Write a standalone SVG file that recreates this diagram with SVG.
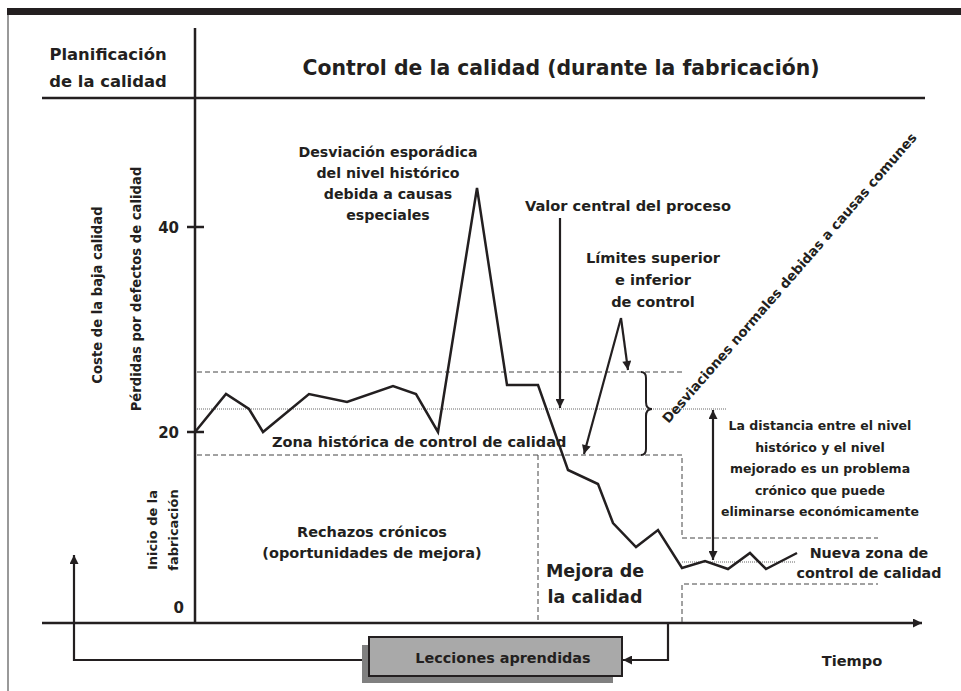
<svg xmlns="http://www.w3.org/2000/svg" width="961" height="691" viewBox="0 0 961 691">
<style>
text{font-family:"DejaVu Sans","Liberation Sans",sans-serif;font-weight:bold;fill:#231f20}
.ln{stroke:#231f20;stroke-width:2.5;fill:none}
.dash{stroke:#444;stroke-width:1;stroke-dasharray:5 3;fill:none}
.dot{stroke:#666;stroke-width:1;stroke-dasharray:1 1;fill:none}
.arr{stroke:#231f20;stroke-width:2.2;fill:none}
.c{text-anchor:middle}
</style>
<defs>
<marker id="ah" viewBox="0 0 10 10" refX="10" refY="5" markerWidth="10" markerHeight="9" markerUnits="userSpaceOnUse" orient="auto-start-reverse"><path d="M0,0 L10,5 L0,10 Z" fill="#231f20"/></marker>
</defs>
<rect width="961" height="691" fill="#fff"/>
<rect x="7" y="8" width="954" height="7" fill="#231f20"/>
<line x1="8" y1="15" x2="8" y2="691" stroke="#777" stroke-width="1.5"/>

<g id="frame">
<line class="ln" x1="195" y1="28" x2="195" y2="623"/>
<line class="ln" x1="42" y1="98" x2="925" y2="98"/>
<line class="ln" x1="42" y1="623" x2="922" y2="623" marker-end="url(#ah)"/>
<line class="ln" x1="187" y1="227" x2="204" y2="227"/>
<line class="ln" x1="187" y1="432" x2="204" y2="432"/>
</g>

<g id="header">
<text class="c" x="108" y="60" font-size="16.4">Planificación</text>
<text class="c" x="108" y="87" font-size="16.4">de la calidad</text>
<text class="c" x="561" y="75" font-size="20.4">Control de la calidad (durante la fabricación)</text>
</g>

<g id="axis-labels">
<text x="179" y="233" font-size="15" text-anchor="end">40</text>
<text x="179" y="438" font-size="15" text-anchor="end">20</text>
<text x="184" y="613" font-size="15" text-anchor="end">0</text>
<text class="c" transform="translate(102,295) rotate(-90)" font-size="13.2">Coste de la baja calidad</text>
<text class="c" transform="translate(141,289) rotate(-90)" font-size="13.2">Pérdidas por defectos de calidad</text>
<text class="c" transform="translate(157,530) rotate(-90)" font-size="13">Inicio de la</text>
<text class="c" transform="translate(178,530) rotate(-90)" font-size="13">fabricación</text>
<text class="c" x="852" y="666" font-size="14.6">Tiempo</text>
</g>

<g id="zones">
<line class="dash" x1="197" y1="372" x2="682" y2="372"/>
<line class="dot" x1="197" y1="409" x2="727" y2="409"/>
<path class="dash" d="M197,455 H682 V538 H878"/>
<line class="dash" x1="538" y1="455" x2="538" y2="622"/>
<path class="dash" d="M682,622 V584 H878"/>
<line class="dot" x1="682" y1="562" x2="796" y2="562"/>
<path d="M641,372 Q646,372 646,378 L646,402 Q646,409 652,409 Q646,409 646,416 L646,449 Q646,455 641,455" stroke="#231f20" stroke-width="2" fill="none"/>
</g>

<g id="process-line">
<polyline class="ln" points="195,432 226,394 249,409 263,432 309,394 347,402 393,386 416,394 438,432 477,188 507,385 538,385 568,470 598,484 613,523 636,547 658,530 682,568 705,561 728,569 750,553 766,569 797,553"/>
</g>

<g id="connectors">
<line class="arr" x1="560" y1="218" x2="560" y2="408" marker-end="url(#ah)"/>
<line class="arr" x1="621" y1="318" x2="584" y2="454" marker-end="url(#ah)"/>
<line class="arr" x1="621" y1="318" x2="628" y2="370" marker-end="url(#ah)"/>
<line class="arr" x1="713" y1="410" x2="713" y2="560" marker-start="url(#ah)" marker-end="url(#ah)"/>
<path class="arr" d="M668,623 V660 H623" marker-end="url(#ah)"/>
<path class="arr" d="M362,660 H74 V555" marker-end="url(#ah)"/>
</g>

<g id="lecciones">
<rect x="362" y="645" width="251" height="38" fill="#808080"/>
<rect x="369" y="637" width="253" height="39" fill="#a9a9a9" stroke="#231f20" stroke-width="2"/>
<text class="c" x="503" y="663" font-size="14.4">Lecciones aprendidas</text>
</g>

<g id="labels">
<text class="c" font-size="14.2"><tspan x="388" y="157">Desviación esporádica</tspan><tspan x="388" y="178">del nivel histórico</tspan><tspan x="388" y="199">debida a causas</tspan><tspan x="388" y="220">especiales</tspan></text>
<text class="c" x="628" y="211" font-size="14.6">Valor central del proceso</text>
<text class="c" font-size="14.6"><tspan x="653" y="263">Límites superior</tspan><tspan x="653" y="285">e inferior</tspan><tspan x="653" y="307">de control</tspan></text>
<text x="272" y="447" font-size="14.5">Zona histórica de control de calidad</text>
<text class="c" font-size="14.5"><tspan x="372" y="537">Rechazos crónicos</tspan><tspan x="372" y="558">(oportunidades de mejora)</tspan></text>
<text class="c" font-size="17.5"><tspan x="595" y="577">Mejora de</tspan><tspan x="595" y="603">la calidad</tspan></text>
<text class="c" font-size="12.5"><tspan x="820" y="430">La distancia entre el nivel</tspan><tspan x="820" y="452">histórico y el nivel</tspan><tspan x="820" y="473">mejorado es un problema</tspan><tspan x="820" y="495">crónico que puede</tspan><tspan x="820" y="516">eliminarse económicamente</tspan></text>
<text class="c" font-size="14.3"><tspan x="869" y="558">Nueva zona de</tspan><tspan x="869" y="578">control de calidad</tspan></text>
<text class="c" transform="translate(793,281) rotate(-49)" font-size="13.4">Desviaciones normales debidas a causas comunes</text>
</g>
</svg>
